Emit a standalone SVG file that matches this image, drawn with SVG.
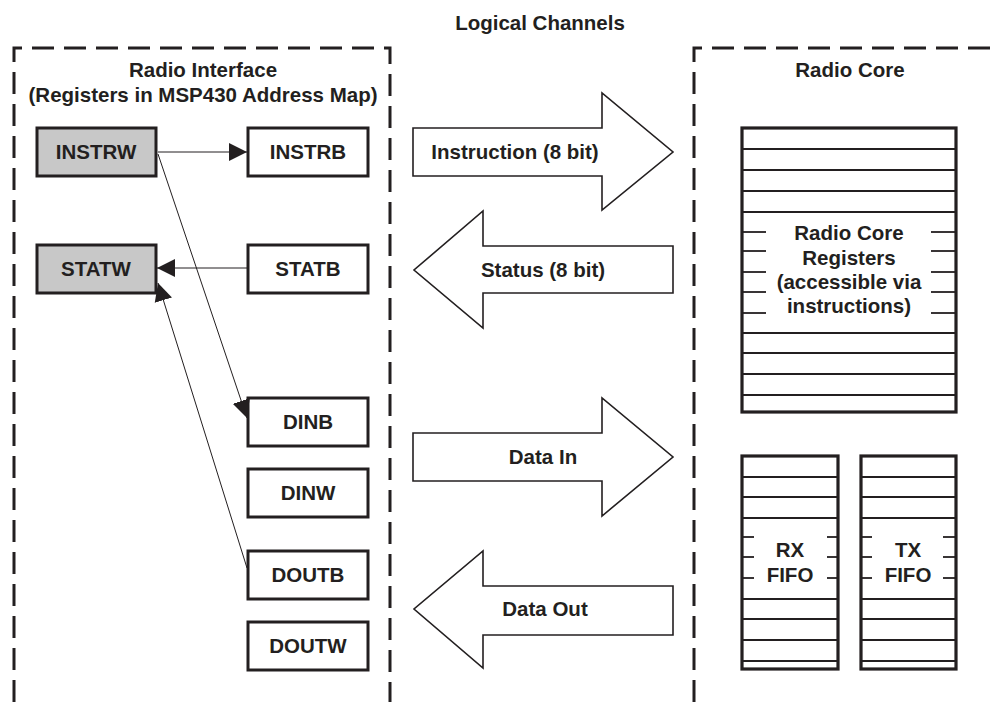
<svg xmlns="http://www.w3.org/2000/svg" width="991" height="702" viewBox="0 0 991 702">
<style>
text{font-family:"Liberation Sans",Arial,sans-serif;font-weight:bold;font-size:20.5px;fill:#231f20;text-anchor:middle}
.dash{fill:none;stroke:#231f20;stroke-width:3;stroke-dasharray:22 10}
.reg{stroke:#231f20;stroke-width:3;fill:#fff}
.regw{fill:#c8c8c8}
.big{fill:#fff;stroke:#231f20;stroke-width:1.6;stroke-linejoin:miter}
.conn{stroke:#231f20;stroke-width:1;fill:none}
.blk{fill:#fff;stroke:#231f20;stroke-width:3.2}
.ln{stroke:#231f20;stroke-width:1.8}
</style>
<defs>
<marker id="ah" viewBox="0 0 10 10" refX="10" refY="5" markerWidth="18" markerHeight="19" markerUnits="userSpaceOnUse" orient="auto">
<path d="M0,0 L10,5 L0,10 Z" fill="#231f20"/>
</marker>
</defs>
<rect width="991" height="702" fill="#fff"/>
<text x="540" y="30">Logical Channels</text>

<g id="radio-interface">
<path class="dash" d="M14,702 L14,48 L390,48 L390,702"/>
<text x="203" y="77">Radio Interface</text>
<text x="203" y="102">(Registers in MSP430 Address Map)</text>
</g>

<g id="radio-core">
<path class="dash" d="M694,702 L694,48 L991,48"/>
<text x="850" y="77">Radio Core</text>
</g>

<g id="INSTRW"><rect class="reg regw" x="37" y="128" width="119" height="48"/><text x="96" y="159">INSTRW</text></g>
<g id="INSTRB"><rect class="reg" x="248" y="128" width="120" height="48"/><text x="308" y="159">INSTRB</text></g>
<g id="STATW"><rect class="reg regw" x="37" y="245" width="119" height="48"/><text x="96" y="276">STATW</text></g>
<g id="STATB"><rect class="reg" x="248" y="245" width="120" height="48"/><text x="308" y="276">STATB</text></g>
<g id="DINB"><rect class="reg" x="248" y="398" width="120" height="48"/><text x="308" y="429">DINB</text></g>
<g id="DINW"><rect class="reg" x="248" y="469" width="120" height="48"/><text x="308" y="500">DINW</text></g>
<g id="DOUTB"><rect class="reg" x="248" y="551" width="120" height="48"/><text x="308" y="582">DOUTB</text></g>
<g id="DOUTW"><rect class="reg" x="248" y="622" width="120" height="48"/><text x="308" y="653">DOUTW</text></g>

<g id="connectors">
<line class="conn" x1="158" y1="152" x2="247" y2="152" marker-end="url(#ah)"/>
<line class="conn" x1="247" y1="268" x2="157" y2="268" marker-end="url(#ah)"/>
<line class="conn" x1="158" y1="154" x2="247" y2="418" marker-end="url(#ah)"/>
<line class="conn" x1="247" y1="568" x2="158" y2="283" marker-end="url(#ah)"/>
</g>

<g id="instruction-channel">
<path class="big" d="M413,128 L602,128 L602,93 L673,152 L602,210 L602,176 L413,176 Z"/>
<text x="515" y="159">Instruction (8 bit)</text>
</g>
<g id="status-channel">
<path class="big" d="M673,246 L483,246 L483,211 L414,270 L483,328 L483,293 L673,293 Z"/>
<text x="543" y="277">Status (8 bit)</text>
</g>
<g id="data-in-channel">
<path class="big" d="M413,433 L602,433 L602,398 L673,457 L602,516 L602,481 L413,481 Z"/>
<text x="543" y="464">Data In</text>
</g>
<g id="data-out-channel">
<path class="big" d="M673,586 L483,586 L483,551 L414,609 L483,668 L483,635 L673,635 Z"/>
<text x="545" y="616">Data Out</text>
</g>

<g id="radio-core-registers">
<rect class="blk" x="742" y="128" width="214" height="284"/>
<g class="ln">
<line x1="742" y1="149" x2="956" y2="149"/>
<line x1="742" y1="170" x2="956" y2="170"/>
<line x1="742" y1="191" x2="956" y2="191"/>
<line x1="742" y1="212" x2="956" y2="212"/>
<line x1="742" y1="232" x2="766" y2="232"/><line x1="931" y1="232" x2="956" y2="232"/>
<line x1="742" y1="251" x2="766" y2="251"/><line x1="931" y1="251" x2="956" y2="251"/>
<line x1="742" y1="272" x2="766" y2="272"/><line x1="931" y1="272" x2="956" y2="272"/>
<line x1="742" y1="292" x2="766" y2="292"/><line x1="931" y1="292" x2="956" y2="292"/>
<line x1="742" y1="313" x2="766" y2="313"/><line x1="931" y1="313" x2="956" y2="313"/>
<line x1="742" y1="333" x2="956" y2="333"/>
<line x1="742" y1="353" x2="956" y2="353"/>
<line x1="742" y1="374" x2="956" y2="374"/>
<line x1="742" y1="395" x2="956" y2="395"/>
</g>
<text x="849" y="240">Radio Core</text>
<text x="849" y="265">Registers</text>
<text x="849" y="289">(accessible via</text>
<text x="849" y="313">instructions)</text>
</g>

<g id="rx-fifo">
<rect class="blk" x="742" y="456" width="96" height="213"/>
<g class="ln">
<line x1="742" y1="477" x2="838" y2="477"/>
<line x1="742" y1="497" x2="838" y2="497"/>
<line x1="742" y1="518" x2="838" y2="518"/>
<line x1="742" y1="537" x2="754" y2="537"/><line x1="827" y1="537" x2="838" y2="537"/>
<line x1="742" y1="557" x2="754" y2="557"/><line x1="827" y1="557" x2="838" y2="557"/>
<line x1="742" y1="578" x2="754" y2="578"/><line x1="827" y1="578" x2="838" y2="578"/>
<line x1="742" y1="599" x2="838" y2="599"/>
<line x1="742" y1="619" x2="838" y2="619"/>
<line x1="742" y1="640" x2="838" y2="640"/>
<line x1="742" y1="661" x2="838" y2="661"/>
</g>
<text x="790" y="557">RX</text>
<text x="790" y="582">FIFO</text>
</g>

<g id="tx-fifo">
<rect class="blk" x="861" y="456" width="95" height="213"/>
<g class="ln">
<line x1="861" y1="477" x2="956" y2="477"/>
<line x1="861" y1="497" x2="956" y2="497"/>
<line x1="861" y1="518" x2="956" y2="518"/>
<line x1="861" y1="537" x2="872" y2="537"/><line x1="943" y1="537" x2="956" y2="537"/>
<line x1="861" y1="557" x2="872" y2="557"/><line x1="943" y1="557" x2="956" y2="557"/>
<line x1="861" y1="578" x2="872" y2="578"/><line x1="943" y1="578" x2="956" y2="578"/>
<line x1="861" y1="599" x2="956" y2="599"/>
<line x1="861" y1="619" x2="956" y2="619"/>
<line x1="861" y1="640" x2="956" y2="640"/>
<line x1="861" y1="661" x2="956" y2="661"/>
</g>
<text x="908" y="557">TX</text>
<text x="908" y="582">FIFO</text>
</g>
</svg>
